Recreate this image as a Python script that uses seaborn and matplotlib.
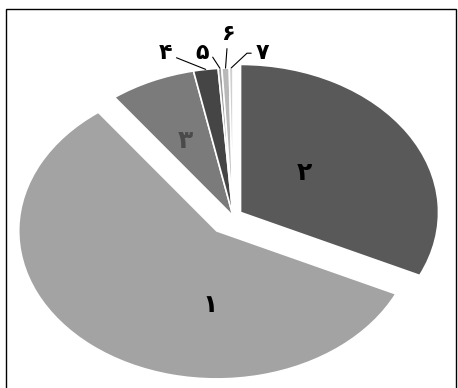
import numpy as np
import matplotlib
matplotlib.use("Agg")
import matplotlib.pyplot as plt
import seaborn as sns

# slice data, in drawing order (clockwise from 12 o'clock)
labels = ['۲', '۱', '۳', '۴', '۵', '۶', '۷']
shares = [32.0, 57.8, 7.0, 2.0, 0.3, 0.6, 0.3]
colors = ['#595959', '#a3a3a3', '#7b7b7b', '#454545', '#9a9a9a', '#b9b9b9', '#d0d0d0']
explode = [0.045, 0.13, 0.0, 0.0, 0.0, 0.0, 0.0]

sns.set_theme(style='white')
plt.rcParams['font.family'] = ['DejaVu Sans']

fig = plt.figure(figsize=(4.58, 3.88), dpi=100)
ax = fig.add_axes([0, 0, 1, 1])

wedges, _ = ax.pie(shares, colors=colors, explode=explode, startangle=90,
                   counterclock=False, radius=1.0,
                   wedgeprops=dict(edgecolor='white', linewidth=1.2))

# elliptical (tilted) look: 1 unit = 198 px horizontally, 148 px vertically
ax.set_aspect('auto')
ax.set_xlim(-233 / 198, (458 - 233) / 198)
ax.set_ylim(-172 / 148, 216 / 148)
ax.axis('off')

# inside labels (data coords)
inside = {'۲': (0.36, 0.29, 'black'), '۱': (-0.116, -0.60, 'black'),
          '۳': (-0.24, 0.51, '#4a4a4a')}
for lab, (x, y, c) in inside.items():
    ax.text(x, y, lab, ha='center', va='center', fontsize=18,
            fontweight='bold', color=c)

# outside labels with leader lines
outside = {'۴': ((-0.343, 1.10), 'arc3,rad=0'),
           '۵': ((-0.157, 1.10), 'angle,angleA=0,angleB=123,rad=0'),
           '۶': ((-0.025, 1.23), 'arc3,rad=0'),
           '۷': ((0.15, 1.10), 'angle,angleA=0,angleB=43,rad=0')}
for w, lab in zip(wedges, labels):
    if lab not in outside:
        continue
    mid = np.deg2rad((w.theta1 + w.theta2) / 2)
    cx, cy = w.center
    pt = (cx + np.cos(mid) * 1.0, cy + np.sin(mid) * 1.0)
    txt, conn = outside[lab]
    ax.annotate(lab, xy=pt, xytext=txt, ha='center', va='center',
                fontsize=16, fontweight='bold', color='black',
                arrowprops=dict(arrowstyle='-', color='black', lw=0.8,
                                connectionstyle=conn, shrinkA=1, shrinkB=0))

# outer frame
frame = plt.Rectangle((6 / 458, -0.01), 450 / 458, (388 - 9) / 388 + 0.01,
                      transform=fig.transFigure, fill=False,
                      edgecolor='black', linewidth=1.0)
fig.patches.append(frame)

fig.savefig('out.png', dpi=100)
